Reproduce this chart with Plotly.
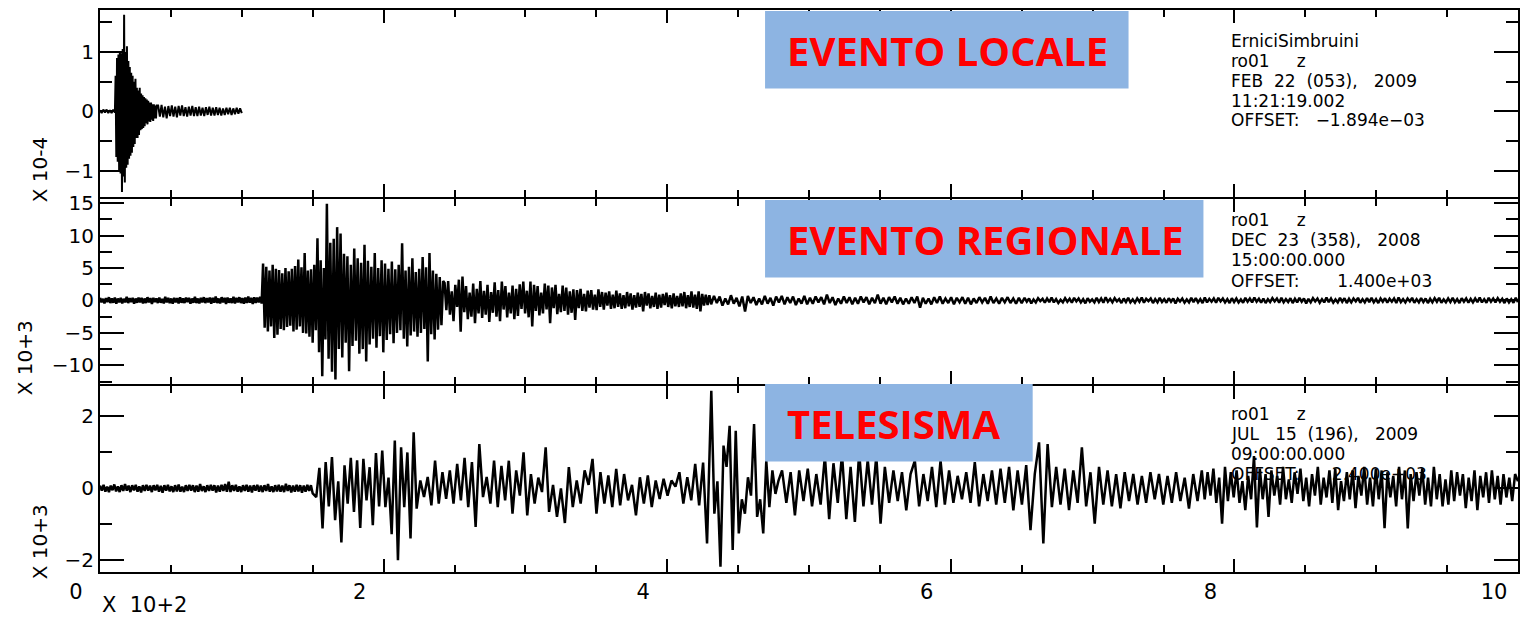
import numpy as np
import plotly.graph_objects as go

# ---------------- DATA (time in units of 10^2 s) ----------------
# Panel 1: local event, amplitude x 10^-4
p1_segments = [(0.0, 0.105), (0.11, 0.40), (0.41, 1.0)]
p1_pre = [0.02, -0.03, 0.03, -0.02, 0.03, -0.03, 0.02, -0.03, 0.03, -0.02]
p1_burst = [0.6, -0.77, 0.9, -0.85, 0.96, -1.0, 1.0, -1.05, 0.98, -1.36,
            1.05, -1.1, 1.63, -1.2, 1.0, -0.95, 1.1, -0.9, 0.85, -0.8,
            0.75, -0.75, 0.65, -0.7, 0.6, -0.6, 0.5, -0.55, 0.55, -0.45,
            0.4, -0.45, 0.35, -0.4, 0.4, -0.32, 0.3, -0.3, 0.27, -0.28,
            0.24, -0.25, 0.22, -0.2, 0.2, -0.22, 0.18, -0.17, 0.15, -0.18,
            0.15, -0.14, 0.12, -0.16, 0.12, -0.12, 0.1, -0.12, 0.1]
p1_coda = [0.1, -0.09, 0.11, -0.1, 0.08, -0.12, 0.09, -0.08, 0.1, -0.09,
           0.08, -0.1, 0.09, -0.07, 0.1, -0.08, 0.07, -0.09, 0.08, -0.07,
           0.09, -0.08, 0.07, -0.08, 0.08, -0.07, 0.06, -0.08, 0.07, -0.06,
           0.08, -0.07, 0.06, -0.07, 0.07, -0.06, 0.06, -0.07, 0.05, -0.06,
           0.06, -0.05, 0.06, -0.06, 0.05, -0.05, 0.06, -0.04, 0.05, -0.03]

# Panel 2: regional event, amplitude x 10^3
p2_segments = [(0.0, 1.14), (1.15, 1.59), (1.60, 2.42), (2.43, 4.31),
               (4.33, 6.50), (6.52, 10.0)]
p2_pre = [0.4, -0.3, 0.25, -0.45, 0.35, -0.25, 0.5, -0.4, 0.3, -0.35,
          0.45, -0.5, 0.3, -0.3, 0.4, -0.45, 0.25, -0.3, 0.55, -0.4,
          0.35, -0.25, 0.4, -0.5, 0.3, -0.35, 0.45, -0.3, 0.4, -0.45,
          0.3, -0.4, 0.5, -0.3, 0.35, -0.55, 0.4, -0.25, 0.3, -0.4,
          0.45, -0.35, 0.25, -0.45, 0.55, -0.3, 0.4, -0.4, 0.3, -0.5,
          0.4, -0.3, 0.35, -0.45, 0.5, -0.35, 0.3, -0.4, 0.45, -0.25,
          0.4, -0.5, 0.3, -0.35, 0.55, -0.4, 0.3, -0.45, 0.4, -0.3,
          0.5, -0.4, 0.35, -0.3, 0.45, -0.5, 0.4, -0.35, 0.6, -0.4,
          0.3, -0.45, 0.5, -0.3, 0.4, -0.55, 0.45, -0.35, 0.3, -0.4,
          0.55, -0.45, 0.4, -0.3, 0.5, -0.4, 0.35, -0.5, 0.45, -0.4,
          0.6, -0.35, 0.4, -0.55, 0.5, -0.4, 0.45, -0.3, 0.55, -0.45]
p2_onset = [5.7, -4.2, 5.2, -4.8, 4.6, -4.0, 5.5, -5.8, 4.9, -5.3,
            4.7, -4.4, 4.2, -4.6, 5.0, -4.1, 4.5, -3.9, 4.9, -4.8,
            5.3, -4.5, 6.3, -4.0, 5.1, -5.0, 7.3, -5.1, 4.6, -5.6,
            4.8, -6.5, 5.5, -4.6, 9.6, -8.0, 6.2, -11.7, 5.0, -6.0]
p2_peak = [14.9, -9.0, 8.9, -11.0, 9.5, -12.2, 11.3, -7.5, 10.3, -8.8,
           7.2, -6.5, 6.8, -10.9, 5.5, -7.0, 8.0, -6.2, 6.5, -8.2,
           5.8, -7.5, 8.6, -9.4, 6.1, -6.8, 5.2, -5.9, 7.3, -7.3,
           5.0, -5.5, 6.2, -8.0, 5.7, -6.1, 4.9, -5.2, 6.0, -6.6,
           4.8, -5.0, 5.5, -4.6, 8.8, -5.9, 4.6, -7.1, 5.2, -5.4,
           6.5, -4.8, 4.4, -5.6, 4.9, -5.0, 6.7, -4.4, 5.1, -9.4,
           7.3, -5.2, 4.6, -6.0, 4.1, -4.5, 3.6, -3.8, 3.0]
p2_decay = [2.7, -1.5, 3.0, -2.2, 1.4, -3.2, 2.4, -1.0, 3.2, -4.8,
            3.7, -1.8, 2.2, -2.9, 1.2, -2.5, 2.6, -3.5, 1.8, -2.0,
            3.0, -2.7, 1.5, -2.2, 2.4, -3.3, 1.3, -1.9, 2.8, -2.5,
            1.6, -3.2, 2.9, -1.4, 2.2, -2.6, 1.2, -2.0, 2.3, -2.9,
            1.8, -2.4, 2.5, -1.3, 2.9, -2.0, 1.5, -2.6, 2.9, -4.0,
            2.4, -1.6, 2.2, -2.3, 1.2, -2.0, 2.6, -1.4, 2.3, -3.5,
            2.0, -1.2, 2.4, -2.1, 1.0, -1.8, 2.3, -1.6, 2.0, -2.2,
            1.4, -1.9, 1.7, -3.0, 1.6, -1.2, 1.8, -1.6, 1.0, -1.7,
            1.5, -1.1, 1.6, -1.4, 0.9, -1.5, 1.7, -1.0, 1.3, -1.4,
            1.2, -0.8, 1.4, -1.3, 0.9, -1.2, 1.5, -1.0, 1.1, -1.3,
            0.8, -1.2, 1.3, -0.9, 1.1, -1.4, 0.8, -1.1, 1.2, -1.0,
            1.0, -1.7, 1.3, -0.8, 1.1, -1.2, 0.7, -1.0, 1.2, -1.3,
            0.9, -1.1, 1.0, -0.7, 1.2, -1.0, 0.8, -1.2, 1.1, -0.9,
            0.7, -1.0, 1.1, -0.9, 1.3, -1.2, 0.8, -1.0, 1.4, -1.1,
            0.9, -1.3, 1.4, -1.7, 1.0, -0.8, 0.9, -0.7, 0.8, -0.6]
p2_coda = [0.7, -0.4, 0.6, -0.8, 0.3, -0.6, 0.8, -0.5, 0.4, -0.9,
           0.6, -1.7, 0.7, -0.4, 0.5, -0.7, 0.3, -0.6, 0.7, -0.5,
           0.4, -0.8, 0.6, -0.3, 0.7, -0.6, 0.5, -0.4, 0.6, -0.7,
           0.3, -0.5, 0.7, -0.6, 0.4, -0.5, 0.6, -0.3, 0.5, -0.6,
           0.9, -0.4, 0.5, -0.7, 0.3, -0.5, 0.6, -0.4, 0.5, -0.6,
           0.4, -0.5, 0.6, -0.3, 0.5, -0.6, 0.4, -0.4, 0.9, -0.5,
           0.4, -0.6, 0.5, -0.3, 0.6, -0.5, 0.4, -0.6, 0.3, -0.5,
           0.5, -0.4, 0.6, -1.1, 0.4, -0.5, 0.3, -0.6, 0.5, -0.4,
           0.6, -0.5, 0.3, -0.4, 0.5, -0.6, 0.4, -0.3, 0.5, -0.5,
           0.4, -0.6, 0.3, -0.4, 0.5, -0.3, 0.4, -0.5, 0.6, -0.4,
           0.3, -0.5, 0.4, -0.3, 0.5, -0.4, 0.3, -0.5, 0.4, -0.4]
p2_tail = [0.4, -0.2, 0.3, -0.45, 0.15, -0.3, 0.35, -0.1, 0.25, -0.35,
           0.3, -0.25, 0.45, -0.3, 0.2, -0.4, 0.1, -0.3, 0.35, -0.2,
           0.25, -0.35, 0.4, -0.15, 0.3, -0.3, 0.2, -0.45, 0.35, -0.2,
           0.15, -0.3, 0.4, -0.25, 0.3, -0.35, 0.5, -0.2, 0.25, -0.3,
           0.35, -0.15, 0.2, -0.4, 0.3, -0.25, 0.4, -0.3, 0.15, -0.35,
           0.3, -0.2, 0.45, -0.35, 0.25, -0.1, 0.3, -0.4, 0.2, -0.3,
           0.4, -0.25, 0.2, -0.35, 0.35, -0.2, 0.3, -0.45, 0.25, -0.15,
           0.3, -0.35, 0.15, -0.3, 0.4, -0.25, 0.35, -0.3, 0.2, -0.4,
           0.45, -0.3, 0.25, -0.2, 0.3, -0.35, 0.4, -0.15, 0.3, -0.3,
           0.2, -0.4, 0.35, -0.25, 0.3, -0.3, 0.15, -0.35, 0.4, -0.2,
           0.3, -0.3, 0.45, -0.2, 0.25, -0.35, 0.3, -0.4, 0.2, -0.25,
           0.35, -0.15, 0.3, -0.35, 0.4, -0.3, 0.2, -0.25, 0.35, -0.4,
           0.25, -0.3, 0.4, -0.2, 0.3, -0.45, 0.25, -0.3, 0.35, -0.15,
           0.3, -0.35, 0.2, -0.3, 0.45, -0.25, 0.3, -0.35, 0.15, -0.3,
           0.4, -0.2, 0.35, -0.4, 0.25, -0.3, 0.3, -0.15, 0.4, -0.35,
           0.2, -0.3, 0.35, -0.25, 0.4, -0.3, 0.2, -0.4, 0.3, -0.2,
           0.35, -0.35, 0.25, -0.2, 0.3, -0.4, 0.45, -0.25, 0.2, -0.3,
           0.3, -0.15, 0.4, -0.35, 0.2, -0.3, 0.35, -0.25, 0.3, -0.4,
           0.25, -0.3, 0.35, -0.2, 0.4, -0.35, 0.15, -0.3, 0.3, -0.25,
           0.4, -0.3, 0.2, -0.4, 0.35, -0.2, 0.3, -0.35, 0.25, -0.3,
           0.3, -0.25, 0.45, -0.3, 0.2, -0.35, 0.4, -0.2, 0.3, -0.3,
           0.35, -0.2, 0.25, -0.4, 0.3, -0.3, 0.2, -0.35, 0.4, -0.25]

# Panel 3: teleseism, amplitude x 10^3
p3_segments = [(0.0, 1.50), (1.525, 2.212), (2.233, 3.143), (3.167, 4.281),
               (4.311, 4.785), (4.81, 7.74), (7.77, 10.0)]
p3_pre = [0.08, -0.06, 0.1, -0.09, 0.05, -0.1, 0.08, -0.05, 0.11, -0.08,
          0.06, -0.1, 0.09, -0.07, 0.12, -0.06, 0.08, -0.1, 0.09, -0.05,
          0.1, -0.09, 0.06, -0.11, 0.09, -0.07, 0.1, -0.06, 0.08, -0.1,
          0.09, -0.05, 0.1, -0.09, 0.07, -0.12, 0.09, -0.06, 0.1, -0.08,
          0.06, -0.1, 0.09, -0.08, 0.11, -0.09, 0.05, -0.1, 0.09, -0.07,
          0.1, -0.06, 0.09, -0.1, 0.08, -0.09, 0.12, -0.07, 0.06, -0.1,
          0.09, -0.07, 0.1, -0.06, 0.09, -0.11, 0.08, -0.09, 0.1, -0.07,
          0.12, -0.09, 0.19, -0.1, 0.09, -0.07, 0.1, -0.09, 0.06, -0.1,
          0.09, -0.07, 0.1, -0.09, 0.08, -0.11, 0.09, -0.06, 0.1, -0.09,
          0.08, -0.1, 0.09, -0.07, 0.12, -0.09, 0.06, -0.1, 0.09, -0.08,
          0.1, -0.09, 0.08, -0.1, 0.13, -0.07, 0.09, -0.11, 0.08, -0.09,
          0.1, -0.08, 0.09, -0.12, 0.08, -0.09, 0.1, -0.07, 0.09, -0.14]
p3_p_arrival = [-0.24, 0.57, -1.11, 0.73, -0.5, 0.87, -0.88, 0.2, -1.5, 0.64,
                -0.42, 0.85, -0.65, 0.78, -1.1, 0.82, -0.33, 0.59, -1.02, 0.98,
                -0.5, 1.05, -0.52, 0.3, -1.27, 1.33, -1.99, 1.14, -0.52, 1.0,
                -1.39, 1.56]
p3_p_coda = [-0.56, 0.22, -0.24, 0.32, -0.47, 0.77, -0.42, 0.45, -0.29, 0.5,
             -0.42, 0.68, -0.33, 0.85, -0.52, 0.73, -1.07, 1.23, -0.24, 0.32,
             -0.42, 0.77, -0.52, 0.63, -0.33, 0.77, -0.7, 0.5, -0.2, 1.0,
             -0.75, 0.4, -0.42, 0.3, -0.1, 1.14]
p3_pp = [-0.65, 0.1, -0.79, 0.0, -0.96, 0.59, -0.52, 0.22, -0.42, 0.5,
         0.1, 0.82, -0.7, 0.45, -0.42, 0.36, -0.52, 0.54, -0.47, 0.4,
         -0.33, 0.1, -0.75, 0.31, -0.42, 0.36, -0.52, 0.22, -0.29, 0.27,
         -0.2, 0.22, 0.05, 0.45, -0.42, 0.31, -0.33, 0.68, -0.47, 0.72,
         -1.53]
p3_s_arrival = [2.71, -0.7, 0.2, -2.17, 1.19, 0.6, 1.74, -1.71, 1.6, -1.25,
                -0.3, -0.7, 0.31, -0.2, 1.79, -0.79, -0.3, -1.25, 0.77, -0.52,
                0.5, -0.15, 0.22]
p3_surface = [0.5, -0.4, 0.45, -0.75, 0.5, -0.35, 0.55, -0.5, 0.4, -0.45,
              0.9, -0.85, 0.7, -0.4, 0.95, -0.85, 0.6, -0.93, 1.0, -0.5,
              0.8, -0.45, 0.9, -0.98, 0.6, -0.4, 0.5, -0.35, 0.45, -0.61,
              0.4, 0.77, -0.5, 0.4, -0.35, 0.6, -0.52, 0.77, -0.45, 0.5,
              -0.4, 0.35, -0.3, 0.45, -0.4, 0.73, -0.5, 0.4, -0.35, 0.5,
              -0.45, 0.55, -0.4, 0.6, -0.61, 0.5, -0.45, 0.65, -1.16, 0.4,
              1.28, -1.53, 1.23, -0.52, 0.6, -0.45, 0.55, -0.6, 0.5, -0.4,
              1.14, -0.5, 0.45, -0.98, 0.6, -0.45, 0.5, -0.5, 0.4, -0.55,
              0.45, -0.35, 0.4, -0.45, 0.35, -0.4, 0.45, -0.3, 0.4, -0.45,
              0.35, -0.4, 0.45, -0.35, 0.3, -0.56, 0.4, -0.35]
p3_tail = [0.5, -0.3, 0.45, -0.2, 0.55, -0.4, 0.3, -0.98, 0.6, -0.35,
           0.45, -0.25, 0.5, -0.4, 0.2, -0.6, 0.35, -0.3, 0.9, -1.08,
           0.55, -0.3, 0.4, -0.79, 0.5, -0.2, 0.35, -0.45, 0.6, -0.3,
           0.25, -0.4, 0.45, -0.15, 0.55, -0.35, 0.3, -0.5, 0.4, -0.2,
           0.6, -0.45, 0.3, -0.25, 0.5, -0.4, 0.55, -0.6, 0.2, -0.35,
           0.45, -0.3, 0.5, -0.55, 0.35, -0.2, 0.6, -0.45, 0.3, -0.5,
           0.55, -0.3, 0.5, -1.1, 0.45, -0.25, 0.35, -0.5, 0.6, -0.3,
           0.5, -1.11, 0.4, -0.35, 0.45, -0.2, 0.55, -0.45, 0.3, -0.5,
           0.6, -0.3, 0.4, -0.5, 0.25, -0.45, 0.5, -0.35, 0.45, -0.2,
           0.4, -0.55, 0.3, -0.35, 0.5, -0.6, 0.35, -0.25, 0.45, -0.4,
           0.5, -0.3, 0.35, -0.45, 0.4, -0.25, 0.3, -0.35, 0.4, 0.2]

x_tick_vals = [0, 2, 4, 6, 8, 10]
x_tick_text = ["0", "2", "4", "6", "8", "10"]

event_labels = ["EVENTO LOCALE", "EVENTO REGIONALE", "TELESISMA"]
scale_labels = ["X 10-4", "X 10+3", "X 10+3"]
NB = "\u00a0"
info_lines = [
    ["ErniciSimbruini", "ro01" + NB * 5 + "z",
     "FEB" + NB * 2 + "22" + NB * 2 + "(053)," + NB * 3 + "2009", "11:21:19.002",
     "OFFSET:" + NB * 3 + "\u22121.894e\u221203"],
    ["ro01" + NB * 5 + "z",
     "DEC" + NB * 2 + "23" + NB * 2 + "(358)," + NB * 3 + "2008", "15:00:00.000",
     "OFFSET:" + NB * 7 + "1.400e+03"],
    ["ro01" + NB * 5 + "z",
     "JUL" + NB * 3 + "15" + NB * 2 + "(196)," + NB * 3 + "2009", "09:00:00.000",
     "OFFSET:" + NB * 6 + "2.400e+03"],
]


def build(segments, arrays):
    xs, ys = [], []
    for (a, b), v in zip(segments, arrays):
        xs.append(np.linspace(a, b, len(v)))
        ys.append(np.asarray(v, dtype=float))
    return np.concatenate(xs), np.concatenate(ys)


x1, y1 = build(p1_segments, [p1_pre, p1_burst, p1_coda])
x2, y2 = build(p2_segments, [p2_pre, p2_onset, p2_peak, p2_decay, p2_coda, p2_tail])
x3, y3 = build(p3_segments, [p3_pre, p3_p_arrival, p3_p_coda, p3_pp,
                             p3_s_arrival, p3_surface, p3_tail])

# ---------------- FIGURE ----------------
W, H = 1522, 617
ML, MR, MT, MB = 100, 2, 7, 45
PW, PH = W - ML - MR, H - MT - MB


def px(xp):
    return (xp - ML) / PW


def py(yp):
    return (H - MB - yp) / PH


BLACK = "black"
FONT = "DejaVu Sans"

fig = go.Figure()
fig.add_trace(go.Scatter(x=x1, y=y1, mode="lines", line=dict(color=BLACK, width=2),
                         xaxis="x", yaxis="y", showlegend=False, hoverinfo="skip"))
fig.add_trace(go.Scatter(x=x2, y=y2, mode="lines", line=dict(color=BLACK, width=2.5),
                         xaxis="x2", yaxis="y2", showlegend=False, hoverinfo="skip"))
fig.add_trace(go.Scatter(x=x3, y=y3, mode="lines", line=dict(color=BLACK, width=2.5),
                         xaxis="x3", yaxis="y3", showlegend=False, hoverinfo="skip"))

# panel domains (2 px gaps so the outward-drawn frame lines coincide)
d1 = (py(195), 1.0)
d2 = (py(383), py(197))
d3 = (0.0, py(385))


def xaxis(anchor, labels):
    return dict(range=[0, 10], anchor=anchor, domain=[0, 1],
                showline=True, mirror="allticks", linecolor=BLACK, linewidth=2,
                ticks="inside", ticklen=13, tickwidth=2, tickcolor=BLACK,
                tickmode="array", tickvals=x_tick_vals, ticktext=x_tick_text,
                showticklabels=labels, ticklabelshift=-24,
                tickfont=dict(family=FONT, size=21, color=BLACK),
                minor=dict(dtick=0.5, tick0=0, ticklen=7, tickwidth=2,
                           tickcolor=BLACK, ticks="inside", showgrid=False),
                showgrid=False, zeroline=False, fixedrange=True)


def yaxis(anchor, domain, rng, dtick, mdtick):
    return dict(range=rng, anchor=anchor, domain=list(domain),
                showline=True, mirror="allticks", linecolor=BLACK, linewidth=2,
                ticks="inside", ticklen=24, tickwidth=2, tickcolor=BLACK,
                dtick=dtick, tick0=0,
                tickfont=dict(family=FONT, size=20, color=BLACK),
                minor=dict(dtick=mdtick, tick0=0, ticklen=12, tickwidth=2,
                           tickcolor=BLACK, ticks="inside", showgrid=False),
                showgrid=False, zeroline=False, fixedrange=True)


fig.update_layout(
    width=W, height=H,
    margin=dict(l=ML, r=MR, t=MT, b=MB, pad=0),
    paper_bgcolor="white", plot_bgcolor="white",
    xaxis=xaxis("y", False), yaxis=yaxis("x", d1, [-1.445, 1.71], 1, 0.5),
    xaxis2=xaxis("y2", False), yaxis2=yaxis("x2", d2, [-12.88, 15.64], 5, 2.5),
    xaxis3=xaxis("y3", True), yaxis3=yaxis("x3", d3, [-2.32, 2.845], 2, 1),
)

# event boxes
BOX = "#8DB4E2"
boxes = [(766, 8, 1130, 86), (766, 198, 1205, 276), (766, 383, 1034, 461)]
text_y = [48, 238, 423]
for (bx0, by0, bx1, by1), lbl, ty in zip(boxes, event_labels, text_y):
    fig.add_shape(type="rect", xref="paper", yref="paper",
                  x0=px(bx0), x1=px(bx1), y0=py(by1), y1=py(by0),
                  fillcolor=BOX, line=dict(width=0), layer="above")
    fig.add_annotation(xref="paper", yref="paper", x=px(786), y=py(ty),
                       xanchor="left", yanchor="middle", text=lbl, showarrow=False,
                       font=dict(family="Open Sans", size=40, color="#FF0000",
                                 weight="bold"))

# info text blocks
info_y = [[38, 58, 78, 98, 118], [218, 238, 258, 279], [413, 433, 453, 473]]
for lines, ys in zip(info_lines, info_y):
    for t, yy in zip(lines, ys):
        fig.add_annotation(xref="paper", yref="paper", x=px(1232), y=py(yy),
                           xanchor="left", yanchor="middle", text=t, showarrow=False,
                           borderpad=0,
                           font=dict(family=FONT, size=17, color=BLACK))

# vertical scale labels
scale_pos = [(40, 168), (25, 357), (40, 542)]
for lbl, (sx, sy) in zip(scale_labels, scale_pos):
    fig.add_annotation(xref="paper", yref="paper", x=px(sx), y=py(sy),
                       xanchor="center", yanchor="middle", text=lbl, textangle=-90,
                       showarrow=False, font=dict(family=FONT, size=20, color=BLACK))

# x scale label
fig.add_annotation(xref="paper", yref="paper", x=px(100), y=py(605),
                   xanchor="left", yanchor="middle", text="X" + NB * 2 + "10+2",
                   showarrow=False, font=dict(family=FONT, size=21, color=BLACK))

fig.write_html("out.html", config={"displayModeBar": False})
